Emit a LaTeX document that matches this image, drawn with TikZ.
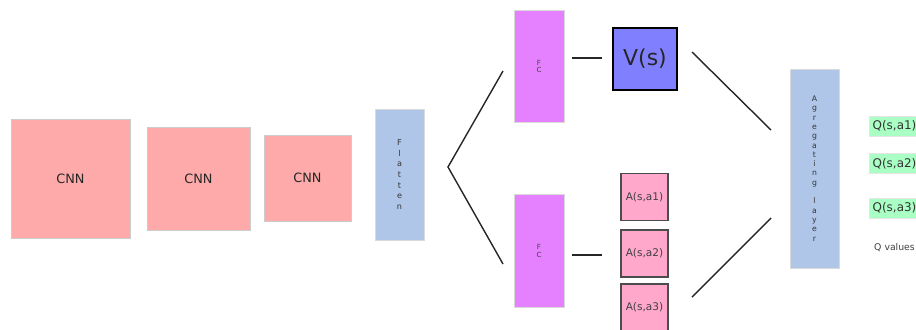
\documentclass[tikz,border=0pt]{standalone}
\usepackage{fontspec}
\setmainfont{DejaVu Sans}
\usepackage{tikz}
\usetikzlibrary{positioning}

\definecolor{cnnred}{RGB}{255,170,170}
\definecolor{flatblue}{RGB}{176,198,232}
\definecolor{fcpink}{RGB}{229,128,255}
\definecolor{valblue}{RGB}{128,128,255}
\definecolor{advpink}{RGB}{255,168,204}
\definecolor{qgreen}{RGB}{170,255,196}

\tikzset{
	cnnbox/.style = {draw=black!20, fill=cnnred, text=black!85, font=\fontsize{7.3}{9}\selectfont},
	flatbox/.style = {draw=black!15, fill=flatblue, align=center, minimum width=0.98cm, text=black!80},
	fcbox/.style = {draw=black!15, fill=fcpink, align=center, minimum width=1cm, minimum height=2.25cm, text=black!75, font=\fontsize{4}{4.4}\selectfont},
	advbox/.style = {draw=black!70, line width=0.6pt, fill=advpink, minimum width=0.94cm, minimum height=0.94cm, inner sep=0pt, text=black!75, font=\fontsize{6}{7}\selectfont},
	qbox/.style = {draw=black!10, fill=qgreen, minimum width=1.02cm, minimum height=0.4cm, inner sep=0pt, text=black!80, font=\fontsize{6.8}{8}\selectfont},
	link/.style = {line width=0.8pt, black!85}
}

\begin{document}
\begin{tikzpicture}[x=0.02cm, y=-0.02cm]
	\useasboundingbox (0,0) rectangle (916,329);
	\clip (0,0) rectangle (916,329);

	% conv part
	\node [cnnbox, minimum width=2.38cm, minimum height=2.38cm] (cnn1) at (70.5,178.5) {CNN};
	\node [cnnbox, minimum width=2.06cm, minimum height=2.06cm] (cnn2) at (198.5,178.5) {CNN};
	\node [cnnbox, minimum width=1.74cm, minimum height=1.72cm] (cnn3) at (307.5,178) {CNN};
	\node [flatbox, minimum height=2.62cm, font=\fontsize{4.6}{6.1}\selectfont] (flat) at (399.5,174.5) {F\\l\\a\\t\\t\\e\\n};

	% two streams
	\node [fcbox] (fc1) at (539,66.5) {F\\C};
	\node [fcbox] (fc2) at (539,251) {F\\C};
	\coordinate (fork) at (448,167);
	\coordinate (up) at (503,71);
	\coordinate (down) at (503,264);
	\draw [link] (up) -- (fork) -- (down);

	\node [draw=black, line width=1pt, fill=valblue, minimum width=1.28cm, minimum height=1.24cm, text=black!85, font=\fontsize{12.5}{14}\selectfont] (vs) at (645,59) {V(s)};
	\node [advbox] (a1) at (644.5,197) {A(s,a1)};
	\node [advbox] (a2) at (644.5,253.5) {A(s,a2)};
	\node [advbox] (a3) at (644.5,307.5) {A(s,a3)};
	\coordinate (vrow) at (0,58);
	\coordinate (arow) at (0,255);
	\draw [link] ([xshift=0.16cm]fc1.east |- vrow) -- ([xshift=-0.2cm]vs.west |- vrow);
	\draw [link] ([xshift=0.16cm]fc2.east |- arow) -- ([xshift=-0.36cm]a2.west |- arow);

	% aggregation
	\node [flatbox, minimum height=3.98cm, font=\fontsize{4.4}{5.3}\selectfont] (agg) at (814.5,168.5) {A\\g\\r\\e\\g\\a\\t\\i\\n\\g\\[5.3pt]l\\a\\y\\e\\r};
	\coordinate (vout) at (692,52);
	\coordinate (aout) at (692,297);
	\coordinate (ain1) at (771,130);
	\coordinate (ain2) at (771,218);
	\draw [link] (vout) -- (ain1);
	\draw [link] (aout) -- (ain2);

	\node [qbox] (q1) at (894.5,126) {Q(s,a1)};
	\node [qbox] (q2) at (894.5,163.5) {Q(s,a2)};
	\node [qbox] (q3) at (894.5,208) {Q(s,a3)};
	\node [below=0.5cm of q3, inner sep=0pt, text=black!75, font=\fontsize{5.3}{6}\selectfont] (qv) {Q values};
\end{tikzpicture}
\end{document}
